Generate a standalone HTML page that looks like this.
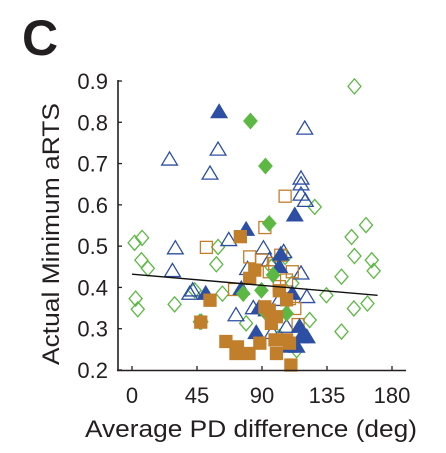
<!DOCTYPE html>
<html><head><meta charset="utf-8"><style>
html,body{margin:0;padding:0;background:#fff;width:446px;height:453px;overflow:hidden}
svg text{font-family:"Liberation Sans",Arial,sans-serif;fill:#231f20}
</style></head><body>
<svg id="chart" width="446" height="453" viewBox="0 0 446 453">
<text x="22" y="55" font-size="50" font-weight="bold">C</text>
<g id="marks"></g>
<g id="axes"></g>
<text transform="translate(59,234) rotate(-90)" text-anchor="middle" font-size="24" textLength="262" lengthAdjust="spacingAndGlyphs">Actual Minimum aRTS</text>
<text x="251" y="437" text-anchor="middle" font-size="24" textLength="332" lengthAdjust="spacingAndGlyphs">Average PD difference (deg)</text>
</svg>
<script>
const xTicks=[0,45,90,135,180];
const yTicks=[0.2,0.3,0.4,0.5,0.6,0.7,0.8,0.9];
const blueFilledX=[60.3,112.7,79,51,75.7,86,88,103,116,117,109,114,102,111,121,93];
const blueFilledY=[0.825,0.575,0.54,0.385,0.397,0.29,0.35,0.48,0.305,0.28,0.257,0.257,0.45,0.385,0.28,0.345];
const blueOpenX=[26,59.6,54,119.6,117,117,117,120,30,28,67,40,42,72,84,80,91,95,105,117,121,97,121,107,102];
const blueOpenY=[0.71,0.734,0.676,0.785,0.664,0.65,0.625,0.61,0.495,0.44,0.515,0.385,0.393,0.333,0.35,0.445,0.495,0.466,0.486,0.434,0.377,0.29,0.28,0.305,0.37];
const greenFilledX=[82,92.4,95,77,89.6,97.7,93,107,48];
const greenFilledY=[0.803,0.694,0.555,0.385,0.393,0.43,0.337,0.337,0.317];
const greenOpenX=[154,126.5,1.8,7,6.5,11,2.5,4,29.5,43.4,47,58.4,59.6,62.6,79,134.6,123,145,145,152,162,154,166,167.3,153.6,163,96.5,106,111,102,114];
const greenOpenY=[0.887,0.595,0.508,0.52,0.466,0.446,0.373,0.347,0.359,0.393,0.317,0.456,0.498,0.385,0.313,0.381,0.321,0.293,0.426,0.522,0.551,0.476,0.466,0.44,0.349,0.361,0.45,0.474,0.41,0.28,0.248];
const orangeFilledX=[75,54,47.6,65,73,72,81,88.5,81.5,85,95,96.5,99,100,102,107,110,107,109,92,100];
const orangeFilledY=[0.523,0.369,0.316,0.269,0.256,0.24,0.24,0.265,0.422,0.442,0.345,0.313,0.273,0.24,0.392,0.37,0.212,0.273,0.265,0.353,0.329];
const orangeOpenX=[106,92,51.5,81.5,89.6,103,95,107,111,71,102,109,112.7,115,98.8];
const orangeOpenY=[0.621,0.545,0.497,0.474,0.466,0.478,0.438,0.418,0.438,0.395,0.402,0.373,0.349,0.31,0.458];
const fitX=[0,170];
const fitY=[0.432,0.381];

const NS='http://www.w3.org/2000/svg';
const X0=132,X1=392,Y0=370,Y1=81;
function sx(v){return X0+(v-0)/(180-0)*(X1-X0);}
function sy(v){return Y0-(v-0.2)/(0.9-0.2)*(Y0-Y1);}
const marks=document.getElementById('marks'),axes=document.getElementById('axes');
function mk(tag,at,parent){const e=document.createElementNS(NS,tag);for(const k in at)e.setAttribute(k,at[k]);parent.appendChild(e);return e;}
const BLUE='#2c4fa3',GREEN='#5cb843',ORANGE='#c17f2c';
function tri(x,y,filled,name){const s=7.5;const e=mk('polygon',{points:`${x},${y-s} ${x+s*1.05},${y+s*0.75} ${x-s*1.05},${y+s*0.75}`,fill:filled?BLUE:'none',stroke:BLUE,'stroke-width':1.3},marks);

}
function dia(x,y,filled,name){const w=6.5,h=7.5;const e=mk('polygon',{points:`${x},${y-h} ${x+w},${y} ${x},${y+h} ${x-w},${y}`,fill:filled?GREEN:'none',stroke:GREEN,'stroke-width':1.3},marks);

}
function sq(x,y,filled,name){const s=6;const e=mk('rect',{x:x-s,y:y-s,width:2*s,height:2*s,fill:filled?ORANGE:'none',stroke:ORANGE,'stroke-width':1.3},marks);

}
greenOpenX.forEach((v,i)=>dia(sx(v),sy(greenOpenY[i]),false,'green-open-point'));
blueOpenX.forEach((v,i)=>tri(sx(v),sy(blueOpenY[i]),false,'blue-open-point'));
orangeOpenX.forEach((v,i)=>sq(sx(v),sy(orangeOpenY[i]),false,'orange-open-point'));
blueFilledX.forEach((v,i)=>tri(sx(v),sy(blueFilledY[i]),true,'blue-filled-point'));
greenFilledX.forEach((v,i)=>dia(sx(v),sy(greenFilledY[i]),true,'green-filled-point'));
orangeFilledX.forEach((v,i)=>sq(sx(v),sy(orangeFilledY[i]),true,'orange-filled-point'));
const fl=mk('line',{x1:sx(fitX[0]),y1:sy(fitY[0]),x2:sx(fitX[1]),y2:sy(fitY[1]),stroke:'#111','stroke-width':1.4},marks);


const ya=mk('line',{x1:118,y1:Y1-1,x2:118,y2:Y0+1,stroke:'#231f20','stroke-width':1.6},axes);


const xa=mk('line',{x1:117,y1:Y0+0.5,x2:406,y2:Y0+0.5,stroke:'#231f20','stroke-width':1.6},axes);


yTicks.forEach(v=>{const y=sy(v);mk('line',{x1:118,y1:y,x2:122,y2:y,stroke:'#231f20','stroke-width':1.3},axes);
const t=mk('text',{x:108,y:y+8,'text-anchor':'end','font-size':22},axes);t.textContent=v.toFixed(1);

});
xTicks.forEach(v=>{const x=sx(v);mk('line',{x1:x,y1:Y0,x2:x,y2:Y0-4,stroke:'#231f20','stroke-width':1.3},axes);
const t=mk('text',{x:x,y:403,'text-anchor':'middle','font-size':22},axes);t.textContent=v;

});
</script>
</body></html>
